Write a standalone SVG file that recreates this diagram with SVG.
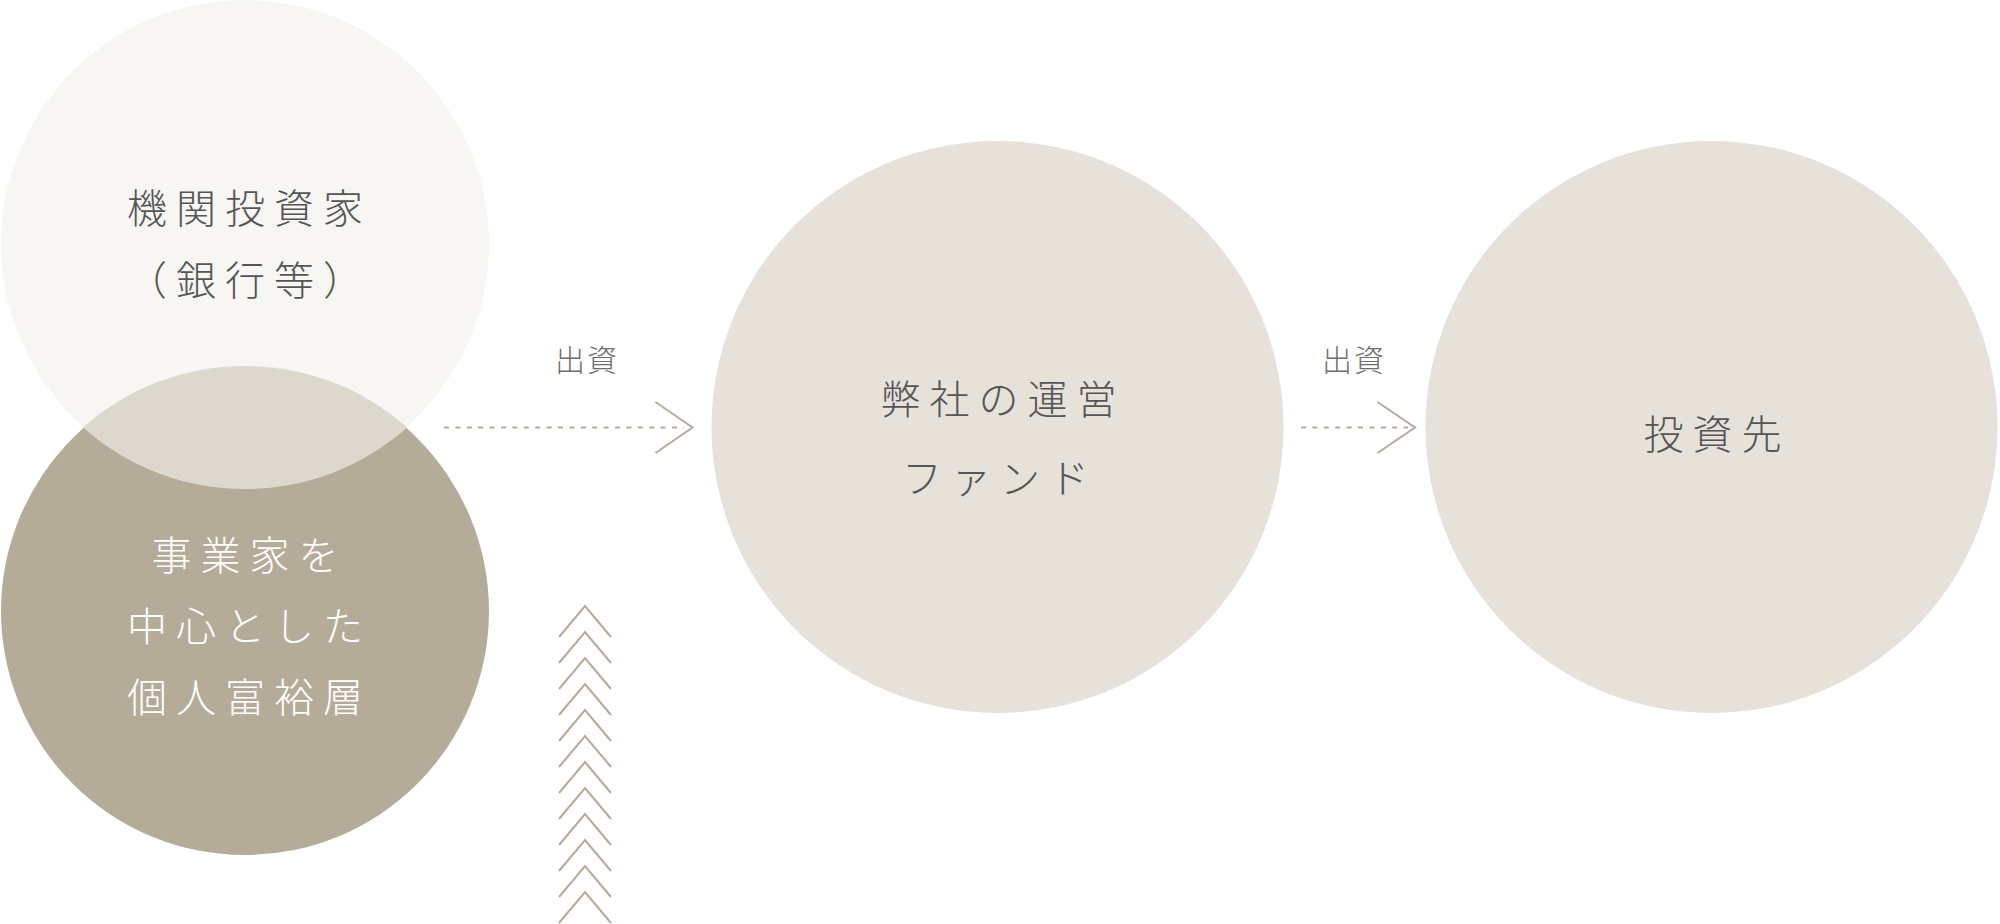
<svg xmlns="http://www.w3.org/2000/svg" width="2000" height="924" viewBox="0 0 2000 924">
<style>
.t{font-family:"Noto Sans CJK JP","Noto Sans CJK SC",sans-serif;font-weight:300;text-anchor:middle}
.dark{fill:#555555;font-size:40px;letter-spacing:9px}
.white{fill:#ffffff;font-size:40px;letter-spacing:9px}
.lbl{fill:#6e6e6e;font-size:30px;letter-spacing:2px}
.dash{stroke:#b5ab99;stroke-width:2;stroke-dasharray:5 6.4;fill:none}
.head{stroke:#b5ab99;stroke-width:2;fill:none}
.chev{stroke:#b5ab99;stroke-width:2;fill:none}
</style>
<rect width="2000" height="924" fill="#ffffff"/>
<g id="node-individuals">
<circle cx="245" cy="611" r="244" fill="#b5ab99"/>
</g>
<g id="node-institutional">
<circle cx="245" cy="244" r="244" fill="#f7f6f2"/>
<path d="M83,427.5 A244,244 0 0 1 407,427.5 A244,244 0 0 1 83,427.5 Z" fill="#ddd8ce"/>
<text class="t dark" x="249.5" y="223">機関投資家</text>
<text class="t dark" x="249.5" y="295">（銀行等）</text>
</g>
<g id="node-individuals-text">
<text class="t white" x="249.5" y="570">事業家を</text>
<text class="t white" x="249.5" y="641">中心とした</text>
<text class="t white" x="249.5" y="712">個人富裕層</text>
</g>
<g id="node-fund">
<circle cx="997.5" cy="427" r="286" fill="#e6e1d9"/>
<text class="t dark" x="1003" y="414">弊社の運営</text>
<text class="t dark" x="1000" y="493">ファンド</text>
</g>
<g id="node-investee">
<circle cx="1711.5" cy="427" r="286" fill="#e6e1d9"/>
<text class="t dark" x="1717" y="449">投資先</text>
</g>
<g id="connectors">
<line class="dash" x1="444" y1="427.5" x2="684" y2="427.5"/>
<polyline class="head" points="655.5,402 692.5,427.5 655.5,453"/>
<text class="t lbl" x="587" y="371">出資</text>
<line class="dash" x1="1301" y1="427.5" x2="1408" y2="427.5"/>
<polyline class="head" points="1377.5,402 1415,427.5 1377.5,453"/>
<text class="t lbl" x="1354" y="371">出資</text>
</g>
<g id="chevrons">
<polyline class="chev" points="559,637 585,606 611,637"/>
<polyline class="chev" points="559,663 585,632 611,663"/>
<polyline class="chev" points="559,689 585,658 611,689"/>
<polyline class="chev" points="559,715 585,684 611,715"/>
<polyline class="chev" points="559,741 585,710 611,741"/>
<polyline class="chev" points="559,767 585,736 611,767"/>
<polyline class="chev" points="559,793 585,762 611,793"/>
<polyline class="chev" points="559,819 585,788 611,819"/>
<polyline class="chev" points="559,845 585,814 611,845"/>
<polyline class="chev" points="559,871 585,840 611,871"/>
<polyline class="chev" points="559,897 585,866 611,897"/>
<polyline class="chev" points="559,923 585,892 611,923"/>
</g>
</svg>
